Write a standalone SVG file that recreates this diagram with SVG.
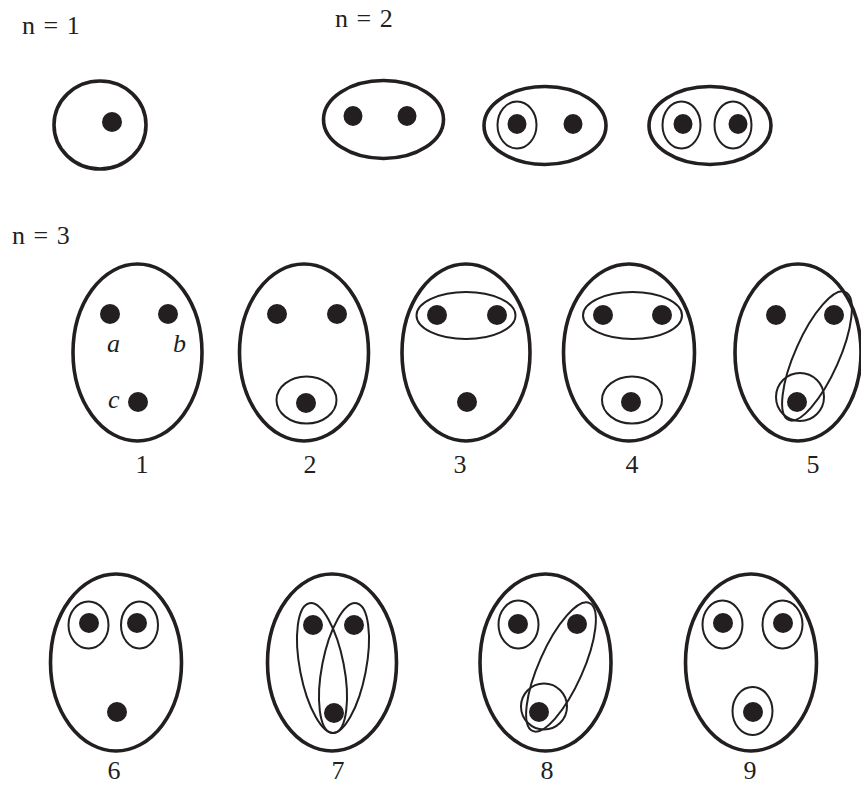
<svg xmlns="http://www.w3.org/2000/svg" width="861" height="785" viewBox="0 0 861 785">
<style>
.o{fill:none;stroke:#231f20;stroke-width:3.6}
.i{fill:none;stroke:#231f20;stroke-width:2}
.d{fill:#231f20}
.t{font-family:"Liberation Serif","Times New Roman",serif;font-size:26px;fill:#231f20}
.n{word-spacing:2px}
.it{font-style:italic;font-size:26px}
</style>
<rect width="861" height="785" fill="#fff"/>
<text class="t n" x="22" y="34">n = 1</text>
<text class="t n" x="335" y="27">n = 2</text>
<text class="t n" x="12" y="244">n = 3</text>
<g id="n1">
<ellipse class="o" cx="100" cy="125" rx="46" ry="44"/>
<circle class="d" cx="112" cy="122" r="10"/>
</g>
<g id="n2a">
<ellipse class="o" cx="383.5" cy="119.5" rx="60" ry="39"/>
<ellipse class="d" cx="353" cy="116" rx="9.5" ry="10"/>
<ellipse class="d" cx="407" cy="116" rx="9.5" ry="10"/>
</g>
<g id="n2b">
<ellipse class="o" cx="545" cy="125.5" rx="61" ry="39"/>
<ellipse class="i" cx="517" cy="125" rx="19.5" ry="23.5"/>
<ellipse class="d" cx="517" cy="124" rx="9.5" ry="10"/>
<ellipse class="d" cx="573" cy="124" rx="9.5" ry="10"/>
</g>
<g id="n2c">
<ellipse class="o" cx="710" cy="125.5" rx="61" ry="39"/>
<ellipse class="i" cx="681.5" cy="125" rx="19" ry="23.5"/>
<ellipse class="i" cx="733" cy="125" rx="18.5" ry="23.5"/>
<ellipse class="d" cx="683" cy="124" rx="9.5" ry="10"/>
<ellipse class="d" cx="738" cy="124" rx="9.5" ry="10"/>
</g>
<g id="p1">
<ellipse class="o" cx="137.5" cy="352.5" rx="64.5" ry="88.5"/>
<circle class="d" cx="110" cy="314" r="10"/>
<circle class="d" cx="168" cy="314" r="10"/>
<circle class="d" cx="138" cy="402" r="10"/>
<text class="t it" x="107" y="352">a</text>
<text class="t it" x="173" y="352">b</text>
<text class="t it" x="108" y="408">c</text>
<text class="t" x="142" y="473" text-anchor="middle">1</text>
</g>
<g id="p2">
<ellipse class="o" cx="304" cy="352.5" rx="64.5" ry="88.5"/>
<ellipse class="i" cx="306.5" cy="400" rx="30" ry="23.5"/>
<circle class="d" cx="277" cy="314" r="10"/>
<circle class="d" cx="337" cy="314" r="10"/>
<circle class="d" cx="306" cy="403" r="10"/>
<text class="t" x="310" y="473" text-anchor="middle">2</text>
</g>
<g id="p3">
<ellipse class="o" cx="466" cy="352.5" rx="64" ry="88.5"/>
<ellipse class="i" cx="466" cy="315.5" rx="49.5" ry="23.5"/>
<circle class="d" cx="437" cy="315" r="10"/>
<circle class="d" cx="497" cy="315" r="10"/>
<circle class="d" cx="467" cy="402" r="10"/>
<text class="t" x="460" y="473" text-anchor="middle">3</text>
</g>
<g id="p4">
<ellipse class="o" cx="629" cy="352.5" rx="65.5" ry="88.5"/>
<ellipse class="i" cx="632.5" cy="315.5" rx="49.5" ry="23.5"/>
<ellipse class="i" cx="632" cy="400" rx="30" ry="23.5"/>
<circle class="d" cx="603" cy="315" r="10"/>
<circle class="d" cx="662" cy="315" r="10"/>
<circle class="d" cx="631" cy="402" r="10"/>
<text class="t" x="632" y="473" text-anchor="middle">4</text>
</g>
<g id="p5">
<ellipse class="o" cx="798" cy="352.5" rx="63" ry="88.5"/>
<ellipse class="i" cx="817" cy="356" rx="70" ry="22" transform="rotate(-66 817 356)"/>
<circle class="i" cx="800" cy="397" r="24"/>
<circle class="d" cx="776" cy="315" r="10"/>
<circle class="d" cx="834" cy="315" r="10"/>
<circle class="d" cx="797" cy="402" r="10"/>
<text class="t" x="813" y="473" text-anchor="middle">5</text>
</g>
<g id="p6">
<ellipse class="o" cx="116" cy="662.5" rx="65.5" ry="88.5"/>
<ellipse class="i" cx="88.5" cy="625" rx="20" ry="23.5"/>
<ellipse class="i" cx="139.5" cy="625" rx="18.5" ry="23.5"/>
<circle class="d" cx="89" cy="623" r="10"/>
<circle class="d" cx="137" cy="623" r="10"/>
<circle class="d" cx="117" cy="712" r="10"/>
<text class="t" x="114" y="779" text-anchor="middle">6</text>
</g>
<g id="p7">
<ellipse class="o" cx="332" cy="662.5" rx="64.5" ry="88.5"/>
<ellipse class="i" cx="322" cy="668" rx="66" ry="22" transform="rotate(79 322 668)"/>
<ellipse class="i" cx="344" cy="668" rx="66" ry="22" transform="rotate(-79 344 668)"/>
<circle class="d" cx="313" cy="625" r="10"/>
<circle class="d" cx="354" cy="625" r="10"/>
<circle class="d" cx="334" cy="713" r="10"/>
<text class="t" x="338" y="779" text-anchor="middle">7</text>
</g>
<g id="p8">
<ellipse class="o" cx="545.5" cy="662.5" rx="65.5" ry="88.5"/>
<ellipse class="i" cx="518.5" cy="624.5" rx="20" ry="24"/>
<ellipse class="i" cx="561" cy="667" rx="70" ry="22" transform="rotate(-66 561 667)"/>
<circle class="i" cx="544" cy="706.5" r="23"/>
<circle class="d" cx="518" cy="624" r="10"/>
<circle class="d" cx="577" cy="624" r="10"/>
<circle class="d" cx="539" cy="712" r="10"/>
<text class="t" x="547" y="779" text-anchor="middle">8</text>
</g>
<g id="p9">
<ellipse class="o" cx="751" cy="662.5" rx="65.5" ry="88.5"/>
<ellipse class="i" cx="722.5" cy="624.5" rx="20" ry="24"/>
<ellipse class="i" cx="782.5" cy="624.5" rx="20" ry="24"/>
<ellipse class="i" cx="752.5" cy="711" rx="20" ry="24"/>
<circle class="d" cx="723" cy="623" r="10"/>
<circle class="d" cx="783" cy="623" r="10"/>
<circle class="d" cx="753" cy="712" r="10"/>
<text class="t" x="750" y="779" text-anchor="middle">9</text>
</g>
<g id="connectors"/>
</svg>
